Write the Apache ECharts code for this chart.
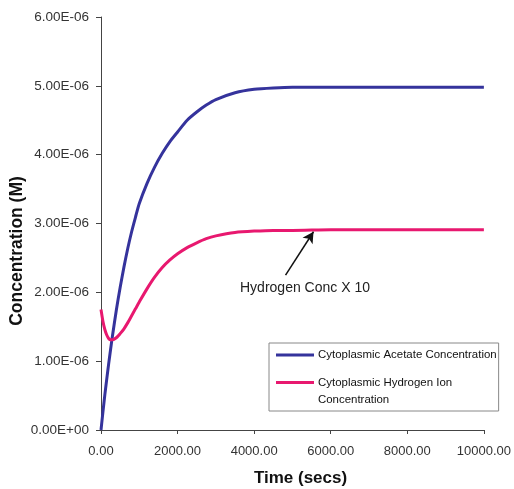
<!DOCTYPE html>
<html>
<head>
<meta charset="utf-8">
<script src="https://cdn.jsdelivr.net/npm/echarts@6/dist/echarts.min.js"></script>
<style>html,body{margin:0;padding:0;background:#fff}#c{width:514px;height:489px}</style>
</head>
<body>
<div id="c"></div>
<script>
// Time points (secs)
var timeSecs = [0, 50, 100, 150, 200, 250, 300, 400, 500, 600, 700, 800, 900, 1000, 1200, 1400, 1600, 1800, 2000, 2250, 2500, 2750, 3000, 3500, 4000, 4500, 5000, 6000, 7000, 8000, 9000, 10000];
// Cytoplasmic acetate concentration (M)
var acetateConc = [0, 0.26e-6, 0.51e-6, 0.74e-6, 0.96e-6, 1.17e-6, 1.37e-6, 1.74e-6, 2.07e-6, 2.37e-6, 2.64e-6, 2.88e-6, 3.09e-6, 3.29e-6, 3.58e-6, 3.82e-6, 4.02e-6, 4.19e-6, 4.33e-6, 4.50e-6, 4.62e-6, 4.72e-6, 4.80e-6, 4.90e-6, 4.95e-6, 4.97e-6, 4.98e-6, 4.98e-6, 4.98e-6, 4.98e-6, 4.98e-6, 4.98e-6];
// Cytoplasmic hydrogen ion concentration (M, x10)
var hydrogenConc = [1.75e-6, 1.58e-6, 1.46e-6, 1.38e-6, 1.33e-6, 1.31e-6, 1.31e-6, 1.34e-6, 1.40e-6, 1.47e-6, 1.56e-6, 1.66e-6, 1.76e-6, 1.86e-6, 2.05e-6, 2.22e-6, 2.36e-6, 2.47e-6, 2.56e-6, 2.65e-6, 2.72e-6, 2.78e-6, 2.82e-6, 2.87e-6, 2.89e-6, 2.90e-6, 2.90e-6, 2.91e-6, 2.91e-6, 2.91e-6, 2.91e-6, 2.91e-6];
var seriesNames = ['Cytoplasmic Acetate Concentration', 'Cytoplasmic Hydrogen Ion\nConcentration'];
var yTickLabels = ['0.00E+00', '1.00E-06', '2.00E-06', '3.00E-06', '4.00E-06', '5.00E-06', '6.00E-06'];
var xTickLabels = ['0.00', '2000.00', '4000.00', '6000.00', '8000.00', '10000.00'];
var xTitle = 'Time (secs)';
var yTitle = 'Concentration (M)';
var annotationText = 'Hydrogen Conc X 10';
var arrowFrom = [4820, 2.25e-6];
var arrowTo = [5550, 2.88e-6];

function pairs(xs, ys) { return xs.map(function (x, i) { return [x, ys[i]]; }); }

var chart = echarts.init(document.getElementById('c'), null, { renderer: 'canvas' });
var font = 'Arial, "Liberation Sans", sans-serif';
chart.setOption({
  animation: false,
  backgroundColor: '#fff',
  textStyle: { fontFamily: font },
  grid: { left: 101, right: 27, top: 17, bottom: 59 },
  xAxis: {
    type: 'value', min: 0, max: 10000, interval: 2000,
    axisLine: { lineStyle: { color: '#444', width: 1 } },
    axisTick: { inside: false, length: 4, lineStyle: { color: '#444' } },
    axisLabel: { fontFamily: font, fontSize: 13, color: '#333', margin: 15,
      formatter: function (v) { return xTickLabels[Math.round(v / 2000)]; } },
    splitLine: { show: false }
  },
  yAxis: {
    type: 'value', min: 0, max: 6e-6, interval: 1e-6,
    axisLine: { show: true, lineStyle: { color: '#444', width: 1 } },
    axisTick: { show: true, length: 5, lineStyle: { color: '#444' } },
    axisLabel: { fontFamily: font, fontSize: 13.5, color: '#333', margin: 12,
      formatter: function (v) { return yTickLabels[Math.round(v / 1e-6)]; } },
    splitLine: { show: false }
  },
  legend: {
    orient: 'vertical', left: 269, top: 343,
    padding: [2, 2, 3, 7], itemGap: 9, itemWidth: 38, itemHeight: 20,
    borderColor: '#888', borderWidth: 1, backgroundColor: '#fff',
    itemStyle: { borderWidth: 0 },
    textStyle: { fontFamily: font, fontSize: 11.45, color: '#111', lineHeight: 17, padding: [0, 0, 0, -1] },
    data: [
      { name: seriesNames[0], icon: 'path://M0,0L38,0M0,8.5L38,8.5L38,11.5L0,11.5ZM0,20L38,20' },
      { name: seriesNames[1], icon: 'path://M0,0L38,0L38,3L0,3ZM0,20L38,20' }
    ]
  },
  series: [
    { name: seriesNames[0], type: 'line', data: pairs(timeSecs, acetateConc), showSymbol: false,
      smooth: 0.25, color: '#35339c', lineStyle: { width: 3, color: '#35339c' } },
    { name: seriesNames[1], type: 'line', data: pairs(timeSecs, hydrogenConc), showSymbol: false,
      smooth: 0.25, color: '#e8186f', lineStyle: { width: 3, color: '#e8186f' },
      markLine: {
        silent: true, animation: false, symbol: ['none', 'arrow'], symbolSize: [9, 11],
        label: { show: false },
        lineStyle: { color: '#111', width: 1.5, type: 'solid' },
        data: [[{ coord: arrowFrom }, { coord: arrowTo }]]
      } }
  ],
  graphic: [
    { type: 'text', left: 240, top: 281,
      style: { text: annotationText, fontFamily: font, fontSize: 14, fill: '#222' } },
    { type: 'text', x: 300.5, y: 478.5,
      style: { text: xTitle, fontFamily: font, fontWeight: 'bold', fontSize: 17, fill: '#111', align: 'center', verticalAlign: 'middle' } },
    { type: 'text', x: 17.5, y: 251, rotation: Math.PI / 2,
      style: { text: yTitle, fontFamily: font, fontWeight: 'bold', fontSize: 17.5, fill: '#111', align: 'center', verticalAlign: 'middle' } }
  ]
});
</script>
</body>
</html>
